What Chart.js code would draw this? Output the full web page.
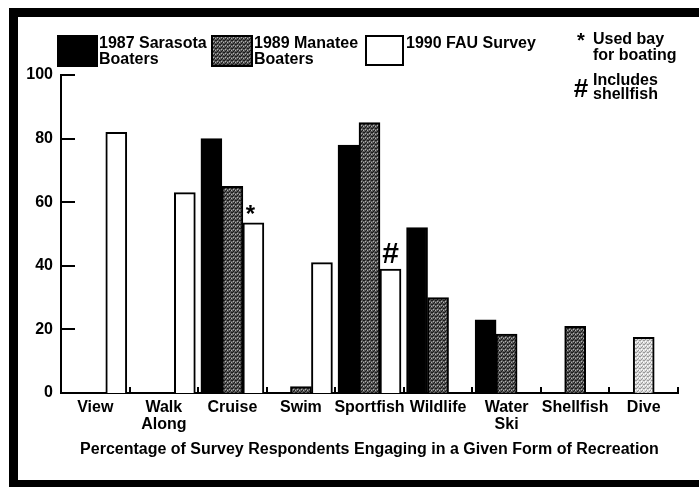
<!DOCTYPE html>
<html><head><meta charset="utf-8">
<script src="https://cdn.jsdelivr.net/npm/chart.js@4"></script>
<style>html,body{margin:0;padding:0;background:#fff}#wrap{width:699px;height:487px;position:relative}</style>
</head><body><div id="wrap"><canvas id="c" width="699" height="487"></canvas></div>
<script>
// ---- data ----
const categories = [['View'], ['Walk', 'Along'], ['Cruise'], ['Swim'], ['Sportfish'], ['Wildlife'], ['Water', 'Ski'], ['Shellfish'], ['Dive']];
const sarasota1987 = [null, null, 80, null, 78, 52, 23, null, null];
const manatee1989 = [null, null, 65, 2, 85, 30, 18.5, 21, 17.5];
const fau1990 = [82, 63, 53.5, 41, 39, null, null, null, null];
const fauMarks = [null, null, '*', null, '#', null, null, null, null];
const yTickValues = [0, 20, 40, 60, 80, 100];
const seriesNames = [['1987 Sarasota', 'Boaters'], ['1989 Manatee', 'Boaters'], ['1990 FAU Survey']];
const noteLines = [['*', 'Used bay', 'for boating'], ['#', 'Includes', 'shellfish']];
const xTitle = 'Percentage of Survey Respondents Engaging in a Given Form of Recreation';

const FONT = 'Liberation Sans, Arial, Helvetica, sans-serif';

function makePattern(base, dark, light) {
  const c = document.createElement('canvas');
  c.width = 4; c.height = 4;
  const g = c.getContext('2d');
  g.fillStyle = base; g.fillRect(0, 0, 4, 4);
  g.fillStyle = dark; g.fillRect(0, 0, 1, 1); g.fillRect(2, 2, 1, 1); g.fillRect(3, 0, 1, 1); g.fillRect(1, 3, 1, 1);
  g.fillStyle = light; g.fillRect(1, 1, 1, 1); g.fillRect(3, 2, 1, 1);
  return document.getElementById('c').getContext('2d').createPattern(c, 'repeat');
}
const darkStipple = makePattern('#585858', '#1a1a1a', '#b0b0b0');
const lightStipple = makePattern('#d8d8d8', '#999', '#fff');

const decor = {
  id: 'decor',
  afterDatasetsDraw(chart) {
    const ctx = chart.ctx;
    const meta = chart.getDatasetMeta(2);
    ctx.save();
    ctx.fillStyle = '#000';
    ctx.textAlign = 'center';
    ctx.textBaseline = 'alphabetic';
    fauMarks.forEach((m, i) => {
      if (!m) return;
      const el = meta.data[i];
      if (m === '#') {
        ctx.font = 'bold 30px ' + FONT;
        ctx.fillText(m, el.x, el.y - 6);
      } else {
        ctx.font = 'bold 24px ' + FONT;
        ctx.fillText(m, el.x - 3, el.y - 1);
      }
    });
    ctx.restore();
  },
  afterDraw(chart) {
    const ctx = chart.ctx;
    const x = chart.scales.x, y = chart.scales.y;
    const area = chart.chartArea;
    ctx.save();
    // frame
    ctx.fillStyle = '#000';
    ctx.fillRect(9, 8, 690, 9);
    ctx.fillRect(9, 8, 9, 479);
    ctx.fillRect(9, 480, 690, 7);
    // inward y ticks
    ctx.strokeStyle = '#000';
    ctx.lineWidth = 2;
    yTickValues.forEach(v => {
      const py = Math.round(y.getPixelForValue(v));
      ctx.beginPath();
      ctx.moveTo(area.left, py);
      ctx.lineTo(area.left + 14, py);
      ctx.stroke();
    });
    // inward x ticks at category boundaries
    for (let i = 1; i <= categories.length; i++) {
      const px = Math.round(x.getPixelForValue(i - 0.5));
      ctx.beginPath();
      ctx.moveTo(px, area.bottom);
      ctx.lineTo(px, area.bottom - 6);
      ctx.stroke();
    }
    // legend
    ctx.font = 'bold 16px ' + FONT;
    ctx.textAlign = 'left';
    ctx.textBaseline = 'middle';
    const boxes = [[58, 36, 39, 30, '#000'], [212, 36, 40, 30, darkStipple], [366, 36, 37, 29, '#fff']];
    const textX = [99, 254, 406];
    boxes.forEach((b, i) => {
      ctx.fillStyle = b[4];
      ctx.fillRect(b[0], b[1], b[2], b[3]);
      ctx.strokeStyle = '#000'; ctx.lineWidth = 2;
      ctx.strokeRect(b[0], b[1], b[2], b[3]);
      ctx.fillStyle = '#000';
      seriesNames[i].forEach((t, j) => ctx.fillText(t, textX[i], 44 + j * 16));
    });
    ctx.fillText(noteLines[0][1], 593, 40);
    ctx.fillText(noteLines[0][2], 593, 56);
    ctx.fillText(noteLines[1][1], 593, 81);
    ctx.fillText(noteLines[1][2], 593, 95);
    // note symbols
    ctx.textAlign = 'center';
    ctx.textBaseline = 'alphabetic';
    ctx.font = 'bold 20px ' + FONT;
    ctx.fillText(noteLines[0][0], 581, 47);
    ctx.font = 'bold 26px ' + FONT;
    ctx.fillText(noteLines[1][0], 581, 97);
    ctx.restore();
  }
};

const tickFont = { family: FONT, size: 16, weight: 'bold', lineHeight: 1.05 };

new Chart(document.getElementById('c'), {
  type: 'bar',
  data: {
    labels: categories,
    datasets: [
      { label: seriesNames[0].join(' '), data: sarasota1987, backgroundColor: '#000', borderColor: '#000', borderWidth: 2 },
      { label: seriesNames[1].join(' '), data: manatee1989,
        backgroundColor: ctx => (ctx.dataIndex === categories.length - 1 ? lightStipple : darkStipple),
        borderColor: '#000', borderWidth: 2 },
      { label: seriesNames[2].join(' '), data: fau1990, backgroundColor: '#fff', borderColor: '#000', borderWidth: 2 }
    ]
  },
  options: {
    responsive: false,
    animation: false,
    devicePixelRatio: 1,
    layout: { padding: { left: 0, right: 21, top: 75, bottom: 0 } },
    plugins: { legend: { display: false }, tooltip: { enabled: false } },
    datasets: { bar: { barThickness: 21, borderSkipped: 'start' } },
    scales: {
      x: {
        grid: { display: false, drawTicks: false },
        border: { display: true, color: '#000', width: 2 },
        ticks: { color: '#000', font: tickFont, padding: 6, maxRotation: 0, autoSkip: false },
        title: { display: true, text: xTitle, color: '#000', font: tickFont, padding: { top: 14, bottom: 29 } },
        afterFit(s) { s.height = 94; }
      },
      y: {
        min: 0, max: 100,
        grid: { display: false, drawTicks: false },
        border: { display: true, color: '#000', width: 2 },
        ticks: { stepSize: 20, color: '#000', font: tickFont, padding: 8 },
        afterFit(s) { s.width = 61; }
      }
    }
  },
  plugins: [decor]
});
</script>
</body></html>
